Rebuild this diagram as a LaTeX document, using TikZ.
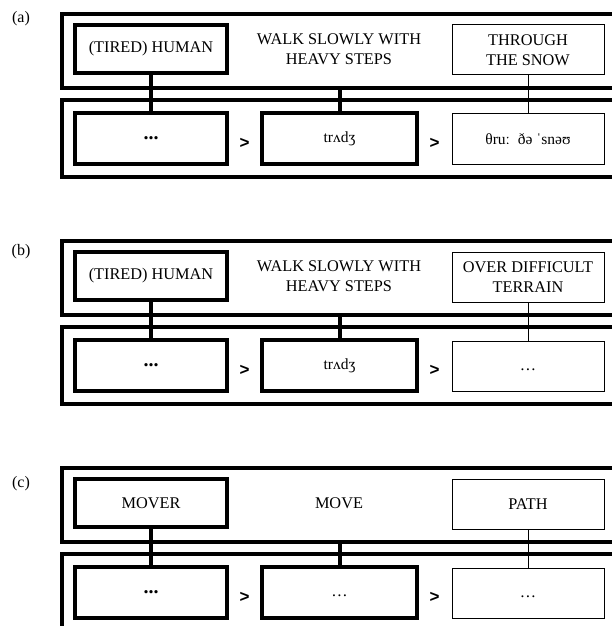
\documentclass[tikz,border=0pt]{standalone}
\usepackage{fontspec}
\setmainfont{Liberation Serif}
\newfontfamily\gtfont{Liberation Sans}
\tikzset{
  base/.style={inner sep=0pt, outer sep=0pt, align=center,
    font=\fontsize{16.3bp}{20bp}\selectfont},
  thickbox/.style={base, draw, line width=4bp},
  thinbox/.style={base, draw, line width=1bp},
  framebox/.style={base, draw, line width=4bp, minimum width=578bp},
  plain/.style={base},
  lab/.style={base, font=\fontsize{16bp}{18bp}\selectfont},
  gt/.style={base, font=\gtfont\bfseries\fontsize{17bp}{18bp}\selectfont},
  thickline/.style={line width=4bp},
  thinline/.style={line width=1bp},
}
\newcommand\drawpanel[8]{%
\begin{scope}[shift={(0,#2)}]
  \node[lab] (#1-lab) at (21,#3) {(#1)};
  \node[framebox, minimum height=74bp] (#1-uf) at (351,51) {};
  \node[framebox, minimum height=77bp] (#1-lf) at (351,138.5) {};
  \node[thickbox, minimum width=152bp, minimum height=48bp] (#1-h) at (151,49) {#4};
  \node[plain] (#1-w) at (339,49) {#5};
  \node[thinbox, minimum width=152bp, minimum height=50bp] (#1-p) at (528,50) {#6};
  \node[thickbox, minimum width=152bp, minimum height=51bp] (#1-l1) at (151,138.5) {{\fontsize{20bp}{20bp}\selectfont\bfseries ...}};
  \node[thickbox, minimum width=155bp, minimum height=51bp] (#1-l2) at (339.5,138.5) {#7};
  \node[thinbox, minimum width=152bp, minimum height=50bp] (#1-l3) at (528,139) {#8};
  \node[gt] (#1-g1) at (244.5,143) {>};
  \node[gt] (#1-g2) at (434.5,143) {>};
  \draw[thickline] (#1-h.south) -- (#1-l1.north);
  \draw[thickline] (#1-uf.south -| #1-l2.north) -- (#1-l2.north);
  \draw[thinline] (#1-p.south) -- (#1-l3.north);
\end{scope}}
\newcommand\thindots{\raisebox{-4bp}[0pt][0pt]{…}}
\newcommand\ipa[1]{{\fontsize{15.5bp}{18bp}\selectfont #1}}
\begin{document}
\begin{tikzpicture}[x=1bp, y=-1bp]
  \useasboundingbox (0,0) rectangle (612,626);
  \drawpanel{a}{0}{19}{(TIRED) HUMAN}{WALK SLOWLY WITH\\HEAVY STEPS}{THROUGH\\THE SNOW}%
    {\ipa{trʌdʒ}}{\ipa{θruː\ \ ðə ˈsnəʊ}}
  \drawpanel{b}{227}{25}{(TIRED) HUMAN}{WALK SLOWLY WITH\\HEAVY STEPS}{OVER DIFFICULT\\TERRAIN}%
    {\ipa{trʌdʒ}}{\thindots}
  \drawpanel{c}{454}{30}{MOVER}{MOVE}{PATH}{\thindots}{\thindots}
\end{tikzpicture}
\end{document}
